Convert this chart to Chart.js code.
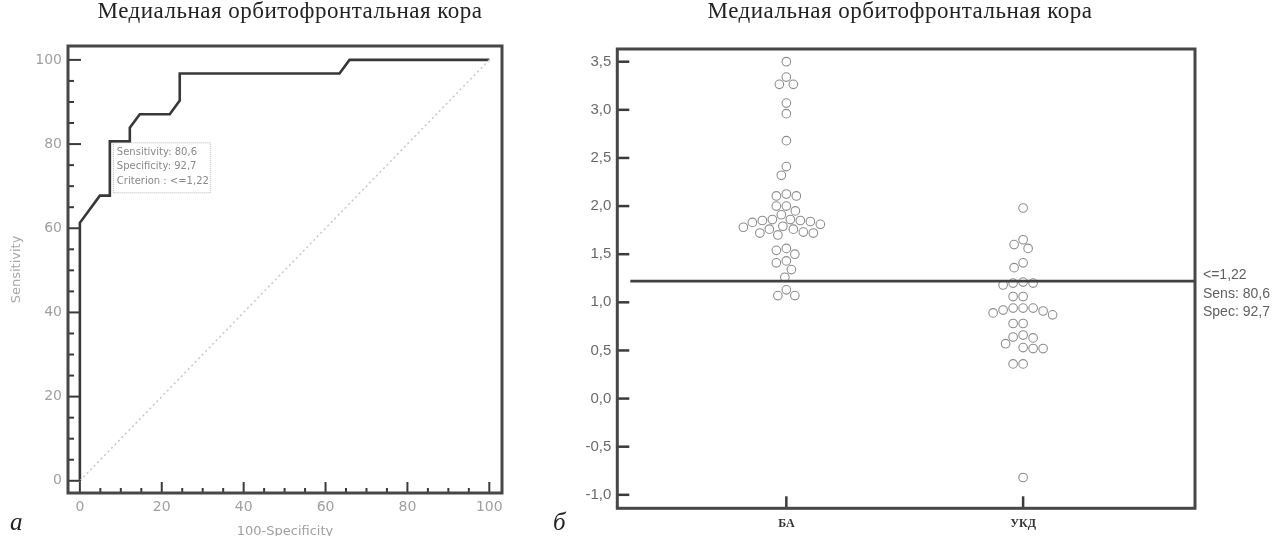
<!DOCTYPE html>
<html><head><meta charset="utf-8">
<script src="https://cdn.jsdelivr.net/npm/chart.js@4/dist/chart.umd.min.js"></script>
<style>
html,body{margin:0;padding:0;background:#fff;width:1279px;height:536px;overflow:hidden;}
.title{position:absolute;font-family:"Liberation Serif",serif;font-size:23px;letter-spacing:0.5px;color:#222;white-space:nowrap;transform:translateX(-50%);top:-2px;}
.letter{position:absolute;font-family:"Liberation Serif",serif;font-style:italic;font-size:25px;color:#222;}
canvas{position:absolute;top:0;}
</style></head><body>
<canvas id="roc" width="540" height="536" style="left:0"></canvas>
<canvas id="dots" width="739" height="536" style="left:540px"></canvas>
<div class="title" style="left:290px">Медиальная орбитофронтальная кора</div>
<div class="title" style="left:900px">Медиальная орбитофронтальная кора</div>
<div class="letter" style="left:10px;top:508px">а</div>
<div class="letter" style="left:553px;top:508px">б</div>
<script>
// ---- ROC data (panel а) ----
const rocFpr  = [0, 0, 4.88, 7.32, 7.32, 12.2, 12.2, 14.63, 21.95, 24.39, 24.39, 63.41, 65.85, 100];
const rocSens = [0, 61.29, 67.74, 67.74, 80.65, 80.65, 83.87, 87.1, 87.1, 90.32, 96.77, 96.77, 100, 100];
const chanceFpr  = [0, 100];
const chanceSens = [0, 100];
const rocTicks = [0, 20, 40, 60, 80, 100];
const cutFpr = 7.32, cutSens = 80.65;
const cutLabels = ['Sensitivity: 80,6', 'Specificity: 92,7', 'Criterion : <=1,22'];

// ---- Dot plot data (panel б) ----
const groups = ['БА', 'УКД'];
const valuesBA = [3.5, 3.34, 3.265, 3.265, 3.07, 2.96, 2.68, 2.41, 2.32,
  2.105, 2.105, 2.125, 1.95, 2.0, 2.0, 1.91,
  1.79, 1.81, 1.83, 1.84, 1.86, 1.85, 1.85, 1.86, 1.78,
  1.70, 1.72, 1.72, 1.73, 1.76, 1.76,
  1.50, 1.54, 1.56, 1.43, 1.41, 1.34, 1.26, 1.07, 1.07, 1.13];
const valuesUKD = [1.98, 1.65, 1.60, 1.56, 1.41, 1.36, 1.21, 1.20, 1.20, 1.18, 1.06, 1.06,
  0.94, 0.94, 0.94, 0.92, 0.91, 0.89, 0.87, 0.78, 0.78, 0.66, 0.64, 0.63,
  0.57, 0.53, 0.52, 0.52, 0.36, 0.36, -0.82];
const dotTicks = [-1.0, -0.5, 0.0, 0.5, 1.0, 1.5, 2.0, 2.5, 3.0, 3.5];
const criterion = 1.22;
const critLabels = ['<=1,22', 'Sens: 80,6', 'Spec: 92,7'];

const comma = v => Number(v).toFixed(1).replace('.', ',');

// ---------- ROC chart ----------
const rocPlugin = {
  id: 'rocPlugin',
  afterDatasetsDraw(chart) {
    const {ctx, chartArea: a, scales: {x, y}} = chart;
    ctx.save();
    ctx.strokeStyle = '#3a3a3a';
    ctx.lineWidth = 2;
    for (let v = 0; v <= 100; v += 5) {
      const major = v % 20 === 0;
      const px = x.getPixelForValue(v);
      ctx.beginPath(); ctx.moveTo(px, a.bottom); ctx.lineTo(px, a.bottom - (major ? 11 : 5)); ctx.stroke();
      const py = y.getPixelForValue(v);
      ctx.beginPath(); ctx.moveTo(a.left, py); ctx.lineTo(a.left + (major ? 13 : 6), py); ctx.stroke();
    }
    // criterion box
    const bx = x.getPixelForValue(cutFpr) + 3, by = y.getPixelForValue(cutSens) + 1;
    ctx.setLineDash([1, 1]);
    ctx.lineWidth = 1;
    ctx.strokeStyle = '#b5b5b5';
    ctx.strokeRect(bx + 0.5, by + 0.5, 97, 50);
    ctx.setLineDash([]);
    ctx.fillStyle = '#8a8a8a';
    ctx.font = '10px "DejaVu Sans"';
    ctx.textBaseline = 'middle';
    cutLabels.forEach((t, i) => ctx.fillText(t, bx + 4, by + 10 + i * 14.5));
    // frame
    ctx.lineWidth = 3;
    ctx.strokeStyle = '#474747';
    ctx.strokeRect(a.left, a.top, a.right - a.left, a.bottom - a.top);
    ctx.restore();
  }
};

new Chart(document.getElementById('roc'), {
  type: 'scatter',
  data: {
    datasets: [
      { data: chanceFpr.map((v, i) => ({x: v, y: chanceSens[i]})), showLine: true,
        borderColor: '#c8c8c8', borderWidth: 1.5, borderDash: [2, 3], pointRadius: 0 },
      { data: rocFpr.map((v, i) => ({x: v, y: rocSens[i]})), showLine: true,
        borderColor: '#383838', borderWidth: 2.6, pointRadius: 0, tension: 0 }
    ]
  },
  options: {
    responsive: false, animation: false, events: [],
    layout: { padding: { left: 0, top: 46, right: 38, bottom: 0 } },
    plugins: { legend: { display: false }, tooltip: { enabled: false } },
    scales: {
      x: { type: 'linear', min: -2.9, max: 103.1,
        afterBuildTicks: s => { s.ticks = rocTicks.map(v => ({value: v})); },
        afterFit: s => { s.height = 43; },
        grid: { display: false, drawTicks: false }, border: { display: false },
        ticks: { padding: 6, color: '#a0a0a0', font: { family: 'DejaVu Sans', size: 14 }, maxRotation: 0 },
        title: { display: true, text: '100-Specificity', color: '#a0a0a0',
          font: { family: 'DejaVu Sans', size: 13 }, padding: { top: 0, bottom: -3 } } },
      y: { type: 'linear', min: -2.9, max: 103.3,
        afterBuildTicks: s => { s.ticks = rocTicks.map(v => ({value: v})); },
        afterFit: s => { s.width = 68; },
        grid: { display: false, drawTicks: false }, border: { display: false },
        ticks: { padding: 6, color: '#a0a0a0', font: { family: 'DejaVu Sans', size: 14 } },
        title: { display: true, text: 'Sensitivity', color: '#a8a8a8',
          font: { family: 'DejaVu Sans', size: 13 }, padding: { top: 9, bottom: 0 } } }
    }
  },
  plugins: [rocPlugin]
});

// ---------- Dot plot ----------
const dotPlugin = {
  id: 'dotPlugin',
  afterDatasetsDraw(chart) {
    const {ctx, chartArea: a, scales: {x, y}} = chart;
    ctx.save();
    ctx.strokeStyle = '#3a3a3a';
    ctx.lineWidth = 2.5;
    dotTicks.forEach(v => {
      const py = y.getPixelForValue(v);
      ctx.beginPath(); ctx.moveTo(a.left, py); ctx.lineTo(a.left + 12, py); ctx.stroke();
    });
    groups.forEach((g, i) => {
      const px = x.getPixelForValue(i + 1);
      ctx.beginPath(); ctx.moveTo(px, a.bottom); ctx.lineTo(px, a.bottom - 12); ctx.stroke();
    });
    // criterion line
    const cy = y.getPixelForValue(criterion);
    ctx.lineWidth = 2.6;
    ctx.strokeStyle = '#404040';
    ctx.beginPath(); ctx.moveTo(a.left + 13, cy); ctx.lineTo(a.right, cy); ctx.stroke();
    ctx.fillStyle = '#606060';
    ctx.font = '14px "Liberation Sans"';
    ctx.textBaseline = 'middle';
    critLabels.forEach((t, i) => ctx.fillText(t, a.right + 8, cy - 6 + i * 18.5));
    // frame
    ctx.lineWidth = 3;
    ctx.strokeStyle = '#474747';
    ctx.strokeRect(a.left, a.top, a.right - a.left, a.bottom - a.top);
    ctx.restore();
  }
};

const groupValues = [valuesBA, valuesUKD];
const dotChart = new Chart(document.getElementById('dots'), {
  type: 'scatter',
  data: {
    datasets: groupValues.map((vals, gi) => ({
      data: vals.map(v => ({x: gi + 1, y: v})),
      pointRadius: 4.3, borderWidth: 1.1, borderColor: '#8e8e8e',
      backgroundColor: 'rgba(255,255,255,0)', pointHoverRadius: 4.3
    }))
  },
  options: {
    responsive: false, animation: false, events: [],
    layout: { padding: { left: 0, top: 49, right: 84, bottom: 0 } },
    plugins: { legend: { display: false }, tooltip: { enabled: false } },
    scales: {
      x: { type: 'linear', min: 0.286, max: 2.726,
        afterBuildTicks: s => { s.ticks = groups.map((g, i) => ({value: i + 1})); },
        afterFit: s => { s.height = 27.7; },
        grid: { display: false, drawTicks: false }, border: { display: false },
        ticks: { padding: 8, color: '#333', maxRotation: 0,
          font: { family: 'Liberation Serif', size: 12, weight: 'bold' },
          callback: v => groups[Math.round(v) - 1] } },
      y: { type: 'linear', min: -1.14, max: 3.632,
        afterBuildTicks: s => { s.ticks = dotTicks.map(v => ({value: v})); },
        afterFit: s => { s.width = 77.3; },
        grid: { display: false, drawTicks: false }, border: { display: false },
        ticks: { padding: 6, color: '#6a6a6a', font: { family: 'Liberation Sans', size: 15 },
          callback: v => comma(v) } }
    }
  },
  plugins: [dotPlugin]
});

// beeswarm layout computed from the library's own scales
function swarm(vals, center, pxX, pxY, diam) {
  const order = vals.map((v, i) => i).sort((p, q) => vals[q] - vals[p]);
  const placed = [];
  const out = new Array(vals.length);
  order.forEach(i => {
    const py = vals[i] * pxY;
    let off = 0;
    for (let k = 0; k < 400; k++) {
      const cand = (k % 2 === 0 ? 1 : -1) * Math.ceil(k / 2) * 0.5;
      if (placed.every(p => Math.hypot(p.px - cand, p.py - py) >= diam)) { off = cand; break; }
    }
    placed.push({px: off, py});
    out[i] = center + off / pxX;
  });
  return out;
}
(function layout() {
  const sx = dotChart.scales.x, sy = dotChart.scales.y;
  const pxX = Math.abs(sx.getPixelForValue(1) - sx.getPixelForValue(0));
  const pxY = Math.abs(sy.getPixelForValue(1) - sy.getPixelForValue(0));
  groupValues.forEach((vals, gi) => {
    const xs = swarm(vals, gi + 1, pxX, pxY, 10);
    dotChart.data.datasets[gi].data = vals.map((v, i) => ({x: xs[i], y: v}));
  });
  dotChart.update('none');
})();
</script>
</body></html>
